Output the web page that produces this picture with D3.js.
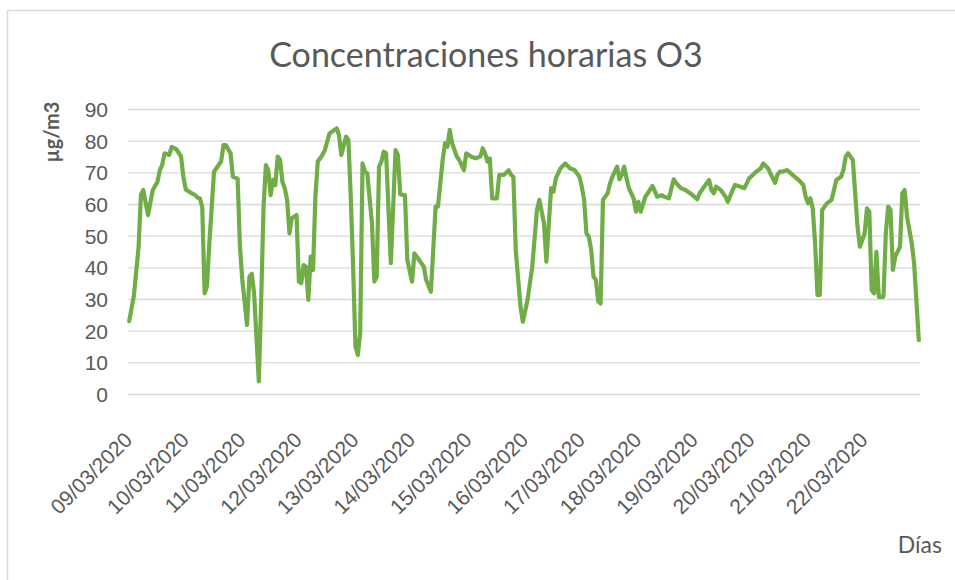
<!DOCTYPE html>
<html>
<head>
<meta charset="utf-8">
<script src="https://cdn.jsdelivr.net/npm/d3@7"></script>
<style>
  body { margin: 0; background: #fff; }
  svg { display: block; font-family: Lato, "Open Sans", sans-serif; }
  .grid line { stroke: #d9d9d9; stroke-width: 1.3; }
  .tick text { fill: #595959; }
</style>
</head>
<body>
<div id="chart"></div>
<script>
// hourly O3 readings (hour offset from 09/03/2020 00:00, µg/m3)
const readings = [
  [0,23],[2,31],[4,46.5],[5,63],[6,64.4],[8,56.5],[10,64.4],[12,67],[13,70.7],[14,72.3],
  [15,76],[17,75.5],[18,78],[20,77.3],[22,75],[23,68.6],[24,64.6],[26,63.6],[28,62.8],[29,62],
  [30,61.8],[31,59],[32,31.8],[33,34],[34,47.6],[36,70.2],[37,71.3],[39,73.4],[40,78.6],[41,78.6],
  [43,76],[44,68.6],[46,68],[47,46.5],[48,36],[50,21.8],[51,37],[52,38],[53,31.8],[55,4],
  [56,29.7],[57,59],[58,72.3],[59,70.7],[60,62.8],[61,67.6],[62,66],[63,75],[64,74],[65,67],
  [66,65],[67,61.3],[68,50.7],[69,55.5],[71,56.5],[72,35.5],[73,35],[74,40.7],[75,40.2],[76,29.7],
  [77,43.4],[78,39.2],[79,62.3],[80,73.4],[82,75.5],[83,77],[85,82.3],[86,82.8],[88,83.9],[89,81.8],
  [90,75.5],[92,81.3],[93,80.2],[94,62.3],[95,40.2],[96,15],[97,12.3],[98,19.2],[99,72.8],[100,70.2],
  [101,69.7],[103,53.9],[104,35.5],[105,37],[106,71.8],[107,73.4],[108,76.5],[109,76],[111,41.3],[113,77],
  [114,75.5],[115,63],[117,62.8],[118,42.3],[120,35.5],[121,44.4],[122,43.4],[123,42.3],[125,40.2],[126,36],
  [128,32.3],[129,45.5],[130,59.2],[131,59.2],[133,73.9],[134,79.2],[135,78.1],[136,83.4],[137,79.2],[139,75],
  [140,73.9],[142,70.7],[143,76],[145,75],[147,74.4],[149,75],[150,77.6],[151,76],[152,73.4],[153,74.4],
  [154,61.8],[156,61.8],[157,69.2],[158,69.2],[159,69.2],[161,70.7],[162,69.2],[163,68.6],[164,45.5],[166,27.6],
  [167,22.8],[169,29.7],[171,40.2],[173,58.1],[174,61.3],[176,53.9],[177,41.8],[179,65],[180,63.9],[181,68.1],
  [183,71.3],[185,72.8],[187,71.3],[189,70.7],[191,68.6],[192,65.5],[193,61.3],[194,50.7],[195,49.7],[196,45.5],
  [197,37],[198,36],[199,29.2],[200,28.6],[201,61.3],[203,63.4],[204,66.5],[205,68.6],[207,71.8],[208,67.8],
  [209,69.2],[210,71.8],[211,68.1],[212,65],[214,61.8],[215,57.6],[216,60.7],[217,57.6],[219,62.3],[220,63.4],
  [222,65.7],[224,62.3],[226,62.8],[227,62.3],[229,61.8],[231,67.8],[232,66.7],[234,65],[236,64.4],[238,63.4],
  [239,62.8],[241,61.5],[242,63.4],[244,65.5],[246,67.6],[247,64.4],[248,63.4],[249,65.5],[251,64.4],[253,62.3],
  [254,60.7],[256,64.4],[257,66],[259,65.5],[261,65],[262,66.5],[263,68.1],[266,70.2],[268,71.3],[269,72.8],
  [271,71.3],[272,69.7],[274,66.7],[275,69.2],[276,70.2],[277,70.2],[279,70.7],[280,70.2],[282,68.8],[284,67.6],
  [286,66],[287,62.3],[288,60.2],[289,61.8],[290,58.6],[291,47.6],[292,31.3],[293,31.3],[294,58.1],[296,60.2],
  [298,61.3],[299,64.4],[300,67.6],[302,68.6],[303,70.7],[304,75],[305,76],[307,73.9],[308,63.4],[309,52.8],
  [310,46.5],[312,50.7],[313,58.6],[314,57.6],[315,32.8],[316,31.8],[317,44.9],[318,30.7],[320,30.7],[321,50.7],
  [322,59.2],[323,58.1],[324,39.2],[325,43.4],[327,46.5],[328,63.4],[329,64.4],[330,56],[332,47.6],[333,41.3],
  [335,17]
];

const dayLabels = ["09/03/2020","10/03/2020","11/03/2020","12/03/2020","13/03/2020","14/03/2020","15/03/2020",
  "16/03/2020","17/03/2020","18/03/2020","19/03/2020","20/03/2020","21/03/2020","22/03/2020"];
const yTicks = [0, 10, 20, 30, 40, 50, 60, 70, 80, 90];

const width = 955, height = 580;
const margin = { left: 128, right: 35, top: 109, bottom: 186 };
const start = new Date(2020, 2, 9);
const end = new Date(2020, 2, 23);
const hourMs = 3600 * 1000;

const svg = d3.select("#chart").append("svg")
  .attr("width", width)
  .attr("height", height);

// chart border
svg.append("rect")
  .attr("x", 7.5).attr("y", 10.5)
  .attr("width", width).attr("height", height)
  .attr("fill", "none")
  .attr("stroke", "#d9d9d9")
  .attr("stroke-width", 1.5);

const x = d3.scaleTime()
  .domain([start, end])
  .range([margin.left, width - margin.right]);

const y = d3.scaleLinear()
  .domain([0, 90])
  .range([height - margin.bottom, margin.top]);

// gridlines + y labels
const yAxis = svg.append("g")
  .attr("class", "grid")
  .attr("transform", `translate(${margin.left},0)`)
  .call(d3.axisLeft(y).tickValues(yTicks).tickSize(-(width - margin.left - margin.right)).tickPadding(20));
yAxis.select(".domain").remove();
yAxis.selectAll("text").style("font-size", "21px").attr("dy", "0.36em");

// x labels, rotated
const dayDates = dayLabels.map((d, i) => new Date(2020, 2, 9 + i));
const xAxis = svg.append("g")
  .attr("transform", `translate(0,${height - margin.bottom})`)
  .call(d3.axisBottom(x).tickValues(dayDates).tickSize(0).tickFormat((d, i) => dayLabels[i]));
xAxis.select(".domain").remove();
xAxis.selectAll("text")
  .style("font-size", "21px")
  .style("text-anchor", "end")
  .attr("dy", 0)
  .attr("transform", "translate(3,45) rotate(-45)");

// O3 line
const line = d3.line()
  .x(d => x(new Date(start.getTime() + (d[0] + 0.5) * hourMs)))
  .y(d => y(d[1]));

svg.append("path")
  .datum(readings)
  .attr("fill", "none")
  .attr("stroke", "#70ad47")
  .attr("stroke-width", 4.2)
  .attr("stroke-linejoin", "round")
  .attr("stroke-linecap", "round")
  .attr("d", line);

// titles
svg.append("text")
  .attr("x", 486).attr("y", 67)
  .attr("text-anchor", "middle")
  .attr("fill", "#595959")
  .style("font-size", "34px")
  .text("Concentraciones horarias O3");

svg.append("text")
  .attr("transform", "translate(59,132) rotate(-90)")
  .attr("text-anchor", "middle")
  .attr("fill", "#595959")
  .style("font-size", "20px")
  .style("font-weight", "bold")
  .text("µg/m3");

svg.append("text")
  .attr("x", 942).attr("y", 553)
  .attr("text-anchor", "end")
  .attr("fill", "#595959")
  .style("font-size", "23px")
  .text("Días");
</script>
</body>
</html>
